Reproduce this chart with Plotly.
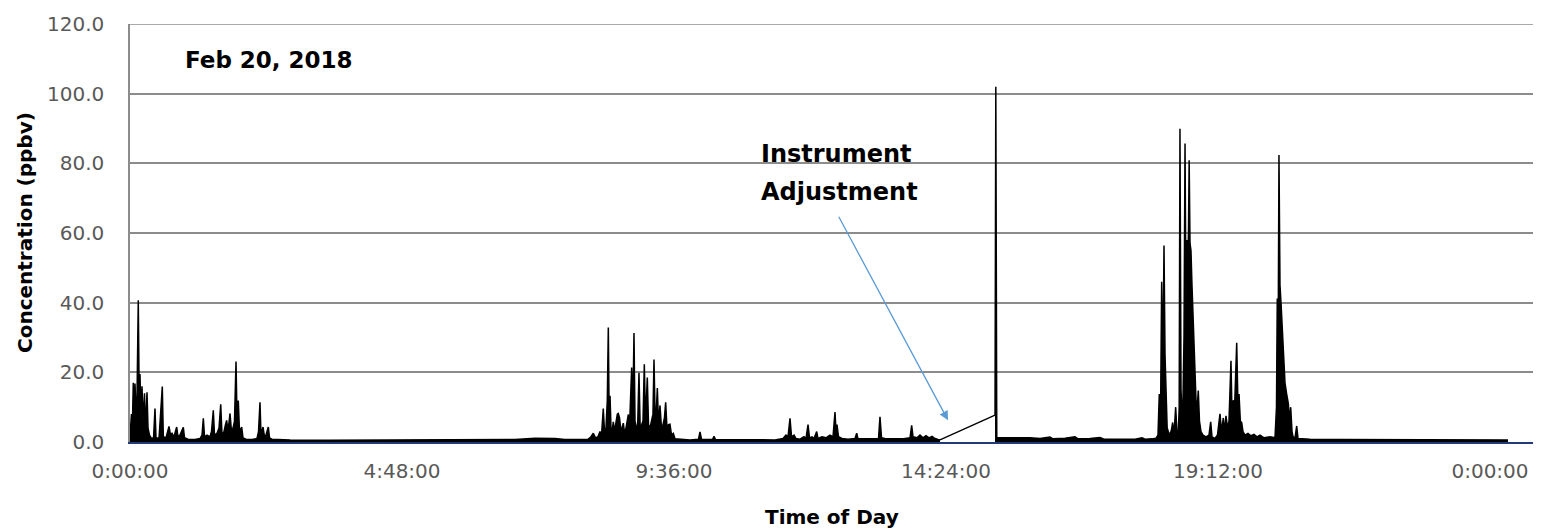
import plotly.graph_objects as go

# Concentration record for Feb 20, 2018 (time of day in hours, ppbv).
# None marks the instrument adjustment gap.
hours = [
    0.000, 0.026, 0.044, 0.058, 0.074, 0.088, 0.106, 0.124, 0.146, 0.164,
    0.176, 0.194, 0.212, 0.229, 0.256, 0.274, 0.300, 0.318, 0.344, 0.371,
    0.415, 0.441, 0.459, 0.512, 0.570, 0.588, 0.635, 0.662, 0.688, 0.715,
    0.741, 0.776, 0.824, 0.847, 0.882, 0.941, 0.962, 1.024, 1.147, 1.235,
    1.271, 1.294, 1.315, 1.359, 1.412, 1.438, 1.470, 1.491, 1.535, 1.571,
    1.601, 1.624, 1.659, 1.685, 1.706, 1.729, 1.765, 1.791, 1.818, 1.844,
    1.871, 1.888, 1.911, 1.932, 1.971, 1.994, 2.047, 2.153, 2.241, 2.268,
    2.294, 2.312, 2.347, 2.374, 2.400, 2.441, 2.462, 2.506,
    2.824, 3.529, 4.412, 5.294, 6.176, 6.794, 7.147, 7.500, 7.676, 7.941,
    8.082, 8.135, 8.176, 8.215, 8.259, 8.294, 8.321, 8.352, 8.374, 8.400,
    8.423, 8.441, 8.457, 8.471, 8.488, 8.506, 8.529, 8.550, 8.576, 8.600,
    8.617, 8.638, 8.665, 8.706, 8.727, 8.753, 8.794, 8.815, 8.832, 8.853,
    8.873, 8.894, 8.912, 8.929, 8.956, 8.982, 9.003, 9.030, 9.053, 9.076,
    9.097, 9.129, 9.150, 9.176, 9.203, 9.229, 9.247, 9.268, 9.288, 9.306,
    9.327, 9.353, 9.379, 9.406, 9.432, 9.453, 9.476, 9.503, 9.529, 9.556,
    9.588, 9.618, 9.882, 10.032, 10.059, 10.085, 10.279, 10.306, 10.332,
    10.765, 11.118, 11.382, 11.524, 11.576, 11.612, 11.647, 11.674, 11.718,
    11.753, 11.824, 11.894, 11.929, 11.965, 11.991, 12.035, 12.071, 12.118,
    12.141, 12.212, 12.282, 12.353, 12.406, 12.441, 12.459, 12.476, 12.503,
    12.565, 12.671, 12.794, 12.824, 12.847, 12.988, 13.129, 13.209, 13.235,
    13.262, 13.323, 13.465, 13.624, 13.765, 13.794, 13.818, 13.888, 13.941,
    13.994, 14.047, 14.100, 14.153, 14.206, 14.259, 14.294,
    14.780,
    15.265, 15.279, 15.296, 15.318, 15.529, 15.706, 15.882, 16.059, 16.235,
    16.288, 16.500, 16.676, 16.729, 16.941, 17.118, 17.188, 17.382, 17.559,
    17.735, 17.859, 17.912, 18.035, 18.106,
    18.141, 18.164, 18.185, 18.206, 18.226, 18.247, 18.265, 18.282, 18.303,
    18.323, 18.353, 18.379, 18.400, 18.423, 18.453, 18.476, 18.499, 18.515,
    18.529, 18.547, 18.565, 18.582, 18.600, 18.618, 18.635, 18.649, 18.667,
    18.679, 18.691, 18.706, 18.723, 18.741, 18.759, 18.776, 18.794, 18.812,
    18.829, 18.852, 18.873, 18.900, 18.935, 18.988, 19.041, 19.071, 19.094,
    19.147, 19.191, 19.218, 19.235, 19.262, 19.294, 19.315, 19.341, 19.368,
    19.394, 19.429, 19.447, 19.470, 19.491, 19.530, 19.553, 19.571, 19.594,
    19.618, 19.641, 19.676, 19.729, 19.782, 19.835, 19.888, 19.941, 20.012,
    20.118, 20.206, 20.232, 20.246, 20.262, 20.276, 20.294, 20.312, 20.335,
    20.356, 20.382, 20.409, 20.441, 20.462, 20.483, 20.506, 20.524, 20.559,
    20.589, 20.612, 20.824, 21.353, 22.059, 22.765, 23.471, 24.000, 24.318,
]

ppbv = [
    1.5, 8.0, 6.0, 17.0, 7.0, 16.8, 9.0, 13.0, 40.7, 10.0,
    19.5, 8.0, 16.0, 6.0, 14.0, 3.0, 14.3, 4.0, 2.0, 1.2,
    1.0, 9.6, 1.2, 1.0, 15.9, 1.5, 1.2, 3.0, 4.5, 2.0,
    2.5, 1.5, 4.3, 1.5, 2.0, 4.2, 1.2, 0.8, 0.7, 1.0,
    2.0, 6.8, 1.5, 2.0, 1.5, 3.0, 9.1, 2.0, 2.5, 4.0,
    10.8, 2.0, 3.0, 5.0, 6.2, 3.0, 8.2, 3.0, 4.0, 6.0,
    23.1, 7.0, 11.9, 3.0, 4.3, 1.2, 0.8, 0.7, 1.0, 3.0,
    11.4, 2.0, 4.3, 1.5, 2.0, 4.3, 1.2, 0.8,
    0.6, 0.5, 0.6, 0.5, 0.6, 0.7, 1.1, 1.0, 0.7, 0.7,
    0.8, 1.5, 2.5, 1.2, 1.5, 3.0, 2.0, 9.6, 3.0, 4.0,
    12.0, 32.9, 5.0, 13.3, 4.0, 3.0, 5.8, 3.0, 6.0, 8.0,
    8.2, 7.0, 3.0, 5.4, 2.5, 4.0, 7.9, 4.0, 12.0, 21.4,
    8.0, 31.3, 6.0, 5.1, 3.0, 19.9, 4.0, 5.0, 6.0, 22.3,
    6.0, 18.5, 5.0, 4.0, 6.0, 8.0, 23.7, 6.0, 9.0, 15.5,
    5.0, 10.5, 4.0, 5.0, 7.0, 11.4, 4.0, 5.0, 5.1, 2.0,
    2.5, 0.9, 0.6, 0.8, 2.9, 0.8, 0.7, 1.6, 0.7,
    0.6, 0.7, 0.6, 1.0, 2.0, 1.5, 6.8, 1.5, 2.0,
    1.0, 0.8, 1.5, 1.0, 5.0, 1.2, 1.5, 1.0, 3.0,
    1.0, 1.5, 1.2, 2.0, 1.5, 8.6, 3.0, 5.0, 1.5,
    1.0, 0.8, 1.0, 2.5, 0.9, 0.8, 0.9, 1.0, 7.2,
    1.2, 1.0, 0.9, 0.9, 1.2, 4.8, 1.5, 1.2, 2.0,
    1.2, 1.8, 1.2, 1.6, 1.0, 0.7, 0.6,
    None,
    7.7, 102.0, 1.2, 1.2, 1.3, 1.1, 1.2, 1.0, 1.4,
    0.9, 1.1, 1.5, 0.9, 1.0, 1.3, 0.8, 0.8, 0.9,
    0.8, 1.2, 0.8, 0.9, 1.1,
    2.0, 13.8, 5.0, 46.0, 20.0, 56.4, 25.0, 12.9, 4.0,
    3.0, 2.0, 3.5, 5.6, 2.0, 10.0, 3.0, 2.0, 10.0,
    89.9, 15.0, 8.0, 12.0, 30.0, 85.7, 40.0, 58.0, 52.0,
    60.0, 80.9, 57.0, 55.0, 45.0, 36.0, 28.0, 20.0, 12.0,
    9.0, 14.8, 6.0, 3.0, 2.0, 1.5, 2.0, 5.8, 1.5,
    1.0, 2.0, 5.0, 8.1, 3.0, 6.9, 3.0, 7.5, 4.0,
    6.0, 23.3, 8.0, 12.0, 9.0, 28.5, 10.0, 13.8, 6.0,
    5.6, 3.0, 2.0, 2.5, 1.8, 2.2, 1.5, 2.0, 1.2,
    1.5, 1.2, 10.0, 41.2, 30.0, 82.4, 45.0, 40.0, 30.8,
    25.0, 17.0, 14.0, 11.0, 6.0, 10.0, 3.0, 1.5, 1.2,
    4.6, 1.0, 0.8, 0.7, 0.7, 0.6, 0.7, 0.6, 0.6,
]

x_ticks = [0, 4.8, 9.6, 14.4, 19.2, 24.0]
x_labels = ["0:00:00", "4:48:00", "9:36:00", "14:24:00", "19:12:00", "0:00:00"]
y_ticks = [0, 20, 40, 60, 80, 100, 120]

FONT = "DejaVu Sans"
TICK_COLOR = "#595959"
GRID_COLOR = "#8c8c8c"
ARROW_COLOR = "#5b9bd5"

# plot-area geometry in pixels
W, H = 1547, 532
L, R, T, B = 130, 1533, 19, 442
HOURS_PER_PX = 24.0 / (1490 - L)


def px_x(px):
    return (px - L) / (R - L)


def px_y(py):
    return (B - py) / (B - T)


gap = ppbv.index(None)

fig = go.Figure()
# measured segments, one filled trace on each side of the gap
for lo, hi in [(0, gap), (gap + 1, len(ppbv))]:
    fig.add_trace(go.Scatter(
        x=hours[lo:hi], y=ppbv[lo:hi], mode="lines",
        line=dict(color="black", width=1.5),
        fill="tozeroy", fillcolor="black", showlegend=False,
    ))
# straight segment spanning the adjustment gap
fig.add_trace(go.Scatter(
    x=[hours[gap - 1], hours[gap + 1]],
    y=[ppbv[gap - 1], ppbv[gap + 1]],
    mode="lines", line=dict(color="black", width=1.4), showlegend=False,
))

fig.update_layout(
    width=W, height=H,
    margin=dict(l=L, r=W - R, t=T, b=H - B, pad=0),
    paper_bgcolor="white", plot_bgcolor="white",
    font=dict(family=FONT, color=TICK_COLOR),
    showlegend=False,
)

fig.update_xaxes(
    range=[0, (R - L) * HOURS_PER_PX],
    tickvals=x_ticks, ticktext=x_labels,
    tickfont=dict(family=FONT, size=20, color=TICK_COLOR),
    ticks="outside", ticklen=10, tickcolor="rgba(0,0,0,0)",
    showgrid=False, zeroline=False,
    showline=True, linecolor="#233a7a", linewidth=1.6,
)
fig.update_yaxes(
    range=[0, 120], tickvals=y_ticks, tickformat=".1f",
    tickfont=dict(family=FONT, size=20, color=TICK_COLOR),
    ticks="outside", ticklen=20, tickcolor="rgba(0,0,0,0)",
    showgrid=True, gridcolor=GRID_COLOR, gridwidth=1.5,
    zeroline=False,
    showline=True, linecolor=GRID_COLOR, linewidth=1.5,
)

# gridline along the 120.0 level at the top edge of the plot area
fig.add_shape(type="line", xref="paper", yref="y", x0=0, x1=1, y0=120, y1=120,
              line=dict(color=GRID_COLOR, width=1.5), layer="below")

annotations = [
    dict(text="<b>Feb 20, 2018</b>", x=px_x(183), y=px_y(55),
         xanchor="left", yanchor="middle",
         font=dict(family=FONT, size=23, color="black")),
    dict(text="<b>Instrument</b>", x=px_x(759), y=px_y(151),
         xanchor="left", yanchor="middle",
         font=dict(family=FONT, size=24, color="black")),
    dict(text="<b>Adjustment</b>", x=px_x(759), y=px_y(189),
         xanchor="left", yanchor="middle",
         font=dict(family=FONT, size=24, color="black")),
    dict(text="<b>Concentration (ppbv)</b>", x=px_x(25), y=0.5,
         xanchor="center", yanchor="middle", textangle=-90,
         font=dict(family=FONT, size=20, color="black")),
    dict(text="<b>Time of Day</b>", x=0.5, y=px_y(518),
         xanchor="center", yanchor="middle",
         font=dict(family=FONT, size=20, color="black")),
]
for a in annotations:
    a.update(xref="paper", yref="paper", showarrow=False)
    fig.add_annotation(**a)

# pointer from the label to the adjustment period
fig.add_annotation(
    x=(948 - L) * HOURS_PER_PX, y=(B - 420) * 120 / (B - T),
    xref="x", yref="y", text="", showarrow=True,
    ax=-110, ay=-205, axref="pixel", ayref="pixel",
    arrowhead=2, arrowsize=1.4, arrowwidth=1.3, arrowcolor=ARROW_COLOR,
)

fig.write_html("out.html")
